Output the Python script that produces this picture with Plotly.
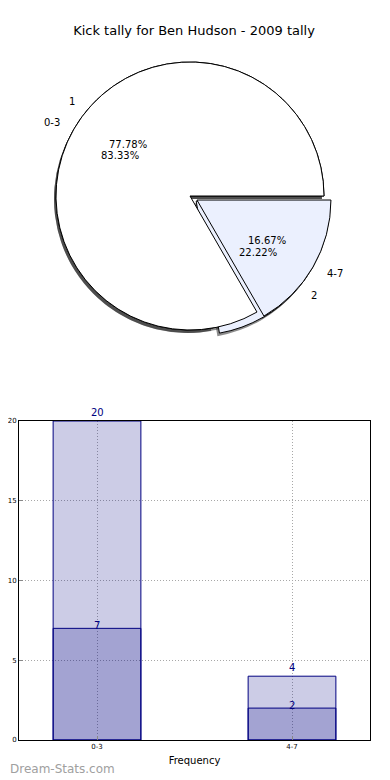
import math
import plotly.graph_objects as go

# ---------------- data ----------------
title_text = "Kick tally for Ben Hudson - 2009 tally"
pie_a_labels = ["0-3", "4-7"]
pie_a_values = [83.33, 16.67]
pie_b_labels = ["1", "2"]
pie_b_values = [77.78, 22.22]
pie_pull = [0.0, 0.06]
pie_colors = ["#FFFFFF", "#EBF0FE"]

bar_categories = ["0-3", "4-7"]
bar_total = [20, 4]
bar_part = [7, 2]
y_ticks = [0, 5, 10, 15, 20]
x_title = "Frequency"
y_title = "Stat Per Tally"
watermark = "Dream-Stats.com"

# ---------------- geometry ----------------
# the page body has an 8px margin, so the figure is offset by 8px
OFF = 8
W, H = 390 - OFF, 780 - OFF
FONT = "DejaVu Sans"


def PX(x):
    return (x - OFF) / W


def PY(y):
    return 1 - (y - OFF) / H


CX, CY, R = 190, 196, 134
maxpull = max(pie_pull)
half = R * (1 + maxpull)
dom_x = [PX(CX - half), PX(CX + half)]
dom_y = [PY(CY + half), PY(CY - half)]


def shifted(dom, d):
    return [dom[0] + d, dom[1] + d]


def rot(vals):
    return 90 + 360 * vals[-1] / sum(vals)


fig = go.Figure()

# shadows
for vals in (pie_b_values, pie_a_values):
    fig.add_trace(go.Pie(
        values=vals, sort=False, direction="clockwise", rotation=rot(vals),
        pull=pie_pull, textinfo="none", hoverinfo="skip", showlegend=False,
        marker=dict(colors=["rgba(0,0,0,0.45)"] * len(vals), line=dict(width=0)),
        domain=dict(x=shifted(dom_x, -2 / W), y=shifted(dom_y, -3 / H)),
    ))

for labs, vals in ((pie_b_labels, pie_b_values), (pie_a_labels, pie_a_values)):
    fig.add_trace(go.Pie(
        labels=labs, values=vals, sort=False, direction="clockwise", rotation=rot(vals),
        pull=pie_pull, textinfo="none", showlegend=False,
        marker=dict(colors=pie_colors, line=dict(color="black", width=1)),
        domain=dict(x=dom_x, y=dom_y),
    ))

annotations = []


def pie_texts(labs, vals):
    total = sum(vals)
    start = 0.0
    for lab, v, p in zip(labs, vals, pie_pull):
        frac = v / total
        mid = 2 * math.pi * (start + frac / 2)
        start += frac
        cx = CX + p * R * math.cos(mid)
        cy = CY - p * R * math.sin(mid)
        px = cx + 0.6 * R * math.cos(mid)
        py = cy - 0.6 * R * math.sin(mid)
        annotations.append(dict(
            x=PX(px), y=PY(py), xref="paper", yref="paper",
            text="%.2f%%" % (100 * frac), showarrow=False,
            xanchor="center", yanchor="middle",
            font=dict(family=FONT, size=10, color="black")))
        lx = cx + 1.1 * R * math.cos(mid)
        ly = cy - 1.1 * R * math.sin(mid)
        annotations.append(dict(
            x=PX(lx), y=PY(ly), xref="paper", yref="paper",
            text=lab, showarrow=False,
            xanchor="left" if math.cos(mid) > 0 else "right", yanchor="middle",
            font=dict(family=FONT, size=10, color="black")))


pie_texts(pie_b_labels, pie_b_values)
pie_texts(pie_a_labels, pie_a_values)

# ---------------- bars ----------------
xpos = list(range(len(bar_categories)))
for vals in (bar_total, bar_part):
    fig.add_trace(go.Bar(
        x=xpos, y=vals, width=0.45, showlegend=False,
        marker=dict(color="rgba(0,0,128,0.2)", line=dict(color="#000080", width=1)),
        xaxis="x", yaxis="y",
    ))

for x, v in zip(xpos, bar_total):
    annotations.append(dict(x=x, y=v, xref="x", yref="y", text=str(v), showarrow=False,
                            yanchor="bottom", yshift=1,
                            font=dict(family=FONT, size=10, color="#000080")))
for x, v in zip(xpos, bar_part):
    annotations.append(dict(x=x, y=v, xref="x", yref="y", text=str(v), showarrow=False,
                            yanchor="bottom", yshift=-5,
                            font=dict(family=FONT, size=10, color="#000080")))

annotations.append(dict(x=PX(-6), y=PY(580), xref="paper", yref="paper", text=y_title,
                        textangle=-90, showarrow=False, xanchor="center", yanchor="middle",
                        font=dict(family=FONT, size=10, color="black")))
annotations.append(dict(x=PX(OFF), y=PY(769), xref="paper", yref="paper", text=watermark,
                        showarrow=False, xanchor="left", yanchor="middle",
                        font=dict(family=FONT, size=12, color="#a0a0a0")))

grid = dict(showgrid=True, griddash="1px,2px", gridcolor="#a8a8a8", gridwidth=1)
fig.update_layout(
    width=W, height=H,
    margin=dict(l=0, r=0, t=0, b=0, autoexpand=False),
    paper_bgcolor="white", plot_bgcolor="white",
    barmode="overlay",
    title=dict(text=title_text, x=PX(194), xanchor="center", y=PY(30), yanchor="middle",
               font=dict(family=FONT, size=13, color="black")),
    font=dict(family=FONT, color="black"),
    annotations=annotations,
    xaxis=dict(domain=[PX(19), PX(370)], range=[-0.4, 1.4], tickvals=xpos,
               ticktext=bar_categories, automargin=False, **grid,
               showline=True, linecolor="black", linewidth=1, mirror=True,
               ticks="inside", ticklen=4, tickcolor="#888", zeroline=False,
               tickfont=dict(family=FONT, size=7),
               title=dict(text=x_title, font=dict(family=FONT, size=10), standoff=6)),
    yaxis=dict(domain=[PY(740), PY(421)], range=[0, 20], tickvals=y_ticks,
               automargin=False, **grid,
               showline=True, linecolor="black", linewidth=1, mirror=True,
               ticks="inside", ticklen=4, tickcolor="#888", zeroline=False,
               tickfont=dict(family=FONT, size=7)),
)

fig.write_html("out.html")
